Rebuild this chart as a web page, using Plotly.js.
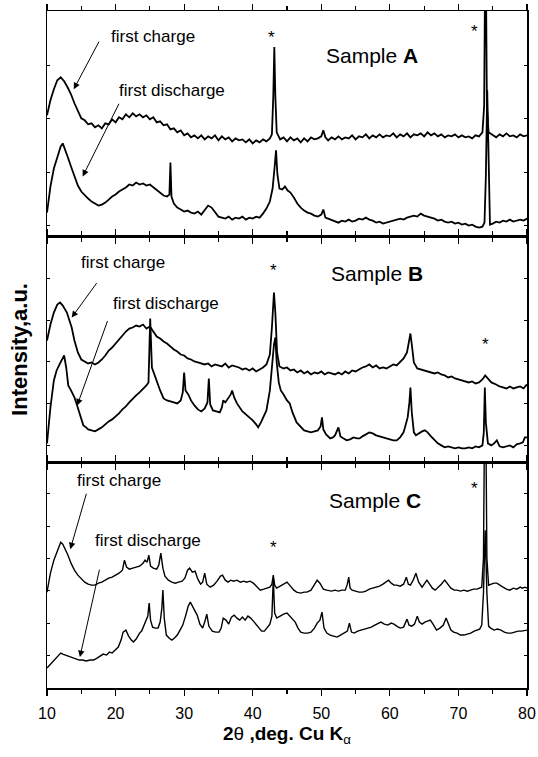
<!DOCTYPE html>
<html>
<head>
<meta charset="utf-8">
<script src="https://cdn.plot.ly/plotly-3.0.1.min.js"></script>
<style>html,body{margin:0;padding:0;background:#fff}#chart{width:538px;height:757px}</style>
</head>
<body>
<div id="chart"></div>
<script>
// ---------- Data (2θ in degrees, intensity in arbitrary units) ----------
const aChargeX = [10,10.5,11,11.5,12,12.5,13,13.5,14,14.5,15,15.5,16,16.5,17,17.5,18,18.5,19,19.5,20,20.5,21,21.5,22,22.5,23,23.5,24,24.5,25,25.5,26,26.5,27,27.5,28,28.5,29,29.5,30,30.5,31,31.5,32,32.5,33,33.5,34,34.5,35,35.5,36,36.5,37,37.5,38,38.5,39,39.5,40,40.5,41,41.5,42,42.5,42.8,43,43.15,43.3,43.5,44,44.5,45,45.5,46,46.5,47,47.5,48,48.5,49,49.5,50,50.3,50.6,51,51.5,52,52.5,53,53.5,54,54.5,55,55.5,56,56.5,57,57.5,58,58.5,59,59.5,60,60.5,61,61.5,62,62.5,63,63.5,64,64.5,65,65.5,66,66.5,67,67.5,68,68.5,69,69.5,70,70.5,71,71.5,72,72.5,73,73.5,73.75,73.95,74.15,74.4,75,75.5,76,76.5,77,77.5,78,78.5,79,79.5,80];
const aChargeY = [121,136,147,156,159,155,149,142,133,126,118,116,112,113,109,111,108,113,112,117,114,119,117,122,119,123,120,122,119,121,117,119,114,115,111,112,107,108,104,106,101,103,99,101,98,101,97,100,98,101,96,100,97,99,95,98,96,97,94,97,93,96,94,97,95,98,102,140,189,140,104,97,99,95,99,96,98,94,98,95,99,97,98,100,106,99,96,99,97,100,97,99,98,101,97,100,99,102,98,101,99,102,99,101,100,103,99,102,100,103,99,102,101,103,100,104,101,103,100,102,99,101,100,102,99,101,99,100,98,101,100,104,130,320,130,104,101,99,102,100,103,100,101,99,102,100,101];

const aDischargeX = [10,10.5,11,11.5,12,12.3,12.6,13,13.5,14,14.5,15,15.5,16,16.5,17,17.5,18,18.5,19,19.5,20,20.5,21,21.5,22,22.5,23,23.5,24,24.5,25,25.5,26,26.5,27,27.5,27.85,28,28.15,28.5,29,29.5,30,30.5,31,31.5,32,32.5,33,33.5,34,34.5,35,35.5,36,36.5,37,37.5,38,38.5,39,39.5,40,40.5,41,41.5,42,42.5,42.9,43.2,43.4,43.6,43.9,44.3,44.7,45.1,45.5,46,46.5,47,47.5,48,48.5,49,49.5,50,50.3,50.6,51,51.5,52,52.5,53,53.5,54,54.5,55,55.5,56,56.5,57,57.5,58,58.5,59,59.5,60,60.5,61,61.5,62,62.5,63,63.5,64,64.5,65,65.5,66,66.5,67,67.5,68,68.5,69,69.5,70,70.5,71,71.5,72,72.5,73,73.5,73.8,74,74.2,74.4,74.6,75,75.5,76,76.5,77,77.5,78,78.5,79,79.5,80];
const aDischargeY = [24,50,68,80,90,93,88,80,70,60,51,45,41,38,35,33,31,32,34,37,40,42,45,47,49,52,51,54,52,53,51,52,49,47,44,41,40,42,74,40,33,29,27,25,26,24,23,25,22,27,31,29,25,20,19,18,20,17,19,18,20,17,19,18,20,19,23,28,35,48,70,86,62,48,47,50,46,44,39,33,29,26,24,23,21,20,22,27,19,18,17,15,14,16,15,17,15,16,18,17,19,17,16,14,15,13,14,15,16,17,18,17,19,20,21,20,23,21,20,19,18,16,17,15,14,15,13,14,12,13,11,12,10,9,10,14,60,146,60,12,13,15,14,16,15,17,15,16,17,16,18];

const bChargeX = [10,10.5,11,11.5,11.9,12.3,12.9,13.3,13.6,14,14.5,15,15.5,16,16.5,17,17.5,18,18.5,19,19.5,20,20.5,21,21.5,22,22.5,23,23.5,24,24.5,25,25.5,26,26.5,27,27.5,28,28.5,29,29.5,30,30.5,31,31.5,32,32.5,33,33.5,34,34.5,35,35.5,36,36.5,37,37.5,38,38.5,39,39.5,40,40.5,41,41.5,42,42.5,42.8,43.1,43.3,43.55,43.9,44.5,45,45.5,46,46.5,47,47.5,48,48.5,49,49.5,50,50.5,51,51.5,52,52.5,53,53.5,54,54.5,55,55.5,56,56.5,57,57.5,58,58.5,59,59.5,60,60.5,61,61.5,62,62.5,62.8,63,63.2,63.5,64,64.5,65,65.5,66,66.5,67,67.5,68,68.5,69,69.5,70,70.5,71,71.5,72,72.5,73,73.5,73.9,74.3,74.8,75.5,76,76.5,77,77.5,78,78.5,79,79.5,80];
const bChargeY = [122,138,150,158,160,157,150,142,135,122,110,103,101,99,100,98,100,103,107,112,115,119,123,128,131,134,135,137,136,138,134,136,131,126,124,121,119,116,113,111,108,107,104,103,101,100,99,98,99,96,98,97,96,99,95,97,96,95,93,94,92,94,91,93,95,98,108,135,170,150,110,96,94,95,92,93,90,92,89,91,88,90,89,91,88,90,89,88,90,88,91,89,92,91,93,95,96,98,95,97,94,95,94,96,98,97,101,104,110,122,129,118,100,94,93,92,91,90,89,90,88,87,85,86,84,83,82,81,80,81,79,80,83,87,84,80,78,76,75,74,76,74,75,76,74,78];

const bDischargeX = [10,10.5,11,11.4,11.9,12.2,12.5,12.8,13.1,13.5,14,14.3,14.7,15,15.3,15.7,16,16.5,17,17.5,18,18.5,19,19.5,20,20.5,21,21.5,22,22.5,23,23.5,24,24.5,24.8,25.05,25.3,25.6,26,26.5,27,27.5,28,28.5,29,29.5,29.8,30,30.2,30.6,31,31.5,32,32.5,33,33.4,33.6,33.8,34.2,34.7,35.2,35.5,35.7,36,36.4,36.8,37,37.3,37.7,38,38.5,39,39.5,40,40.5,40.8,41.2,41.6,42,42.5,42.8,43.1,43.3,43.5,43.8,44.1,44.5,45,45.4,45.8,46.4,47,47.5,48,48.5,49,49.5,49.9,50.1,50.3,50.7,51,51.3,51.7,52,52.5,52.8,53.2,53.7,54.2,54.7,55.2,55.6,56,56.5,57,57.5,58,58.5,59,59.5,60,60.5,61,61.5,62,62.3,62.6,62.85,63,63.2,63.5,63.8,64.2,64.7,65.1,65.5,66,66.5,67,67.5,68,68.5,69,69.5,70,70.5,71,71.5,72,72.5,73,73.5,73.7,73.85,74,74.3,74.8,75.2,75.6,76,76.5,77,77.5,78,78.5,79,79.4,79.7,80];
const bDischargeY = [19,55,82,92,99,103,107,95,77,72,65,59,50,43,37,35,33,32,31,33,35,38,41,43,46,49,53,56,60,64,67,70,73,77,80,144,95,89,82,72,64,62,61,60,59,62,70,90,72,68,62,57,53,51,54,60,84,58,52,51,50,55,62,60,64,68,72,65,59,56,51,48,45,42,38,35,40,46,52,72,95,118,125,100,80,72,68,62,59,50,40,35,32,31,30,31,32,36,45,33,28,26,24,25,27,35,26,24,22,23,25,24,24,26,28,30,29,27,26,25,24,23,22,22,25,30,37,45,60,75,50,30,27,29,31,32,30,26,22,19,17,15,16,15,14,15,14,14,15,14,16,15,17,30,75,40,19,17,19,22,16,15,16,17,15,18,19,20,25,25];

const cChargeX = [10,10.5,11,11.5,12,12.3,12.7,13,13.5,14,14.5,15,15.5,16,16.5,17,17.5,18,18.5,19,19.5,20,20.5,21,21.3,21.6,22,22.5,23,23.5,24,24.3,24.6,24.85,25.1,25.5,26,26.3,26.6,26.9,27.2,27.7,28.2,28.7,29.2,29.7,30.1,30.5,30.8,31.2,31.6,32,32.4,32.7,33,33.3,33.8,34.3,34.8,35.3,35.6,36,36.4,36.8,37.2,37.7,38.2,38.7,39.1,39.6,40.1,40.6,41.1,41.6,42,42.5,42.8,43,43.2,43.5,44,44.5,45,45.5,46,46.4,47,47.5,47.9,48.5,49,49.4,49.8,50.3,50.8,51.5,52,52.5,53,53.5,53.8,54,54.2,54.5,55,55.5,56,56.5,57,57.5,58,58.5,59,59.5,59.8,60.2,60.6,61,61.5,62,62.4,62.7,63,63.4,63.8,64.2,64.7,65.1,65.4,65.8,66.2,66.6,67.1,67.5,68,68.4,68.9,69.4,69.8,70.3,70.8,71.3,71.7,72.2,72.7,73.1,73.4,73.65,73.9,74.15,74.4,74.8,75.2,75.6,76,76.5,77,77.5,78,78.5,79,79.3,79.7,80];
const cChargeY = [96,115,128,138,146,144,139,134,125,118,113,109,106,104,103,103,105,106,108,110,111,113,115,118,128,121,119,120,121,122,125,128,126,133,122,120,119,123,135,120,112,108,106,105,106,107,110,118,120,116,117,109,104,106,115,104,101,103,107,112,113,108,106,108,107,108,106,107,106,107,105,101,98,99,100,101,104,113,103,100,102,104,106,102,98,96,95,96,96,98,103,108,105,99,98,97,98,97,98,98,104,111,100,98,97,96,96,97,99,100,101,102,104,107,108,105,103,103,102,104,111,104,103,108,115,106,101,105,108,104,100,98,101,104,108,104,100,98,98,97,98,97,98,99,99,100,101,130,350,130,103,104,105,105,103,101,99,98,100,99,101,100,101,100];

const cDischargeX = [10,10.5,11,11.5,12,12.3,12.7,13.2,13.7,14.2,14.7,15.2,15.7,16.3,16.8,17.3,17.8,18.2,18.7,19.1,19.5,20,20.4,20.8,21.1,21.5,21.9,22.3,22.6,23,23.5,23.8,24.1,24.4,24.7,24.9,25.1,25.4,25.8,26.2,26.5,26.75,26.9,27.1,27.4,27.8,28.2,28.6,29,29.4,29.8,30.2,30.6,30.9,31.2,31.6,31.9,32.3,32.7,33,33.3,33.6,34.1,34.6,35.1,35.4,35.7,36.1,36.5,36.9,37.3,37.7,38.1,38.5,38.9,39.3,39.7,40.1,40.5,40.9,41.3,41.7,42.1,42.5,42.8,43,43.2,43.5,44,44.5,45,45.4,45.8,46.2,46.6,47,47.5,48,48.5,49,49.4,49.8,50.1,50.4,50.8,51.3,51.8,52.3,52.8,53.3,53.8,54.1,54.4,54.8,55.3,55.8,56.3,56.8,57.3,57.8,58.3,58.7,59.2,59.7,60.2,60.6,61,61.5,62,62.5,62.8,63.2,63.6,64,64.3,64.7,65.1,65.5,65.9,66.3,66.8,67.3,67.8,68.2,68.5,68.9,69.3,69.8,70.3,70.8,71.3,71.8,72.3,72.7,73.1,73.4,73.65,73.9,74.15,74.4,74.7,75.2,75.7,76.2,76.7,77.2,77.7,78.2,78.7,79.2,79.7,80];
const cDischargeY = [20,24,28,32,35,34,33,32,30,29,28,28,27,28,28,30,32,34,33,36,35,38,41,48,56,58,52,48,46,49,55,57,62,68,72,85,68,61,60,60,66,80,98,70,53,50,48,50,53,58,63,72,82,86,82,78,73,64,60,66,74,62,57,56,56,60,70,68,64,71,73,70,68,71,68,72,70,67,64,60,57,57,60,64,72,110,75,70,72,74,75,72,70,66,60,56,55,55,56,60,65,68,76,60,55,53,52,51,53,55,57,65,56,55,57,58,59,60,61,63,65,66,64,63,65,64,62,60,61,69,63,62,64,72,66,64,66,67,68,64,58,60,63,70,64,58,56,55,53,53,54,55,57,58,59,63,95,158,95,62,60,58,59,58,56,55,55,56,57,57,58,58];

const panelNames = ['A', 'B', 'C'];
const curveNames = ['first charge', 'first discharge'];
const xTickLabels = ['10', '20', '30', '40', '50', '60', '70', '80'];

// ---------- Styling ----------
const FONT = 'Liberation Sans, Arial, Helvetica, sans-serif';

const series = [
  {x: aChargeX, y: aChargeY, ax: 'x3', ay: 'y3', name: 'A ' + curveNames[0], w: 1.8},
  {x: aDischargeX, y: aDischargeY, ax: 'x3', ay: 'y3', name: 'A ' + curveNames[1], w: 1.8},
  {x: bChargeX, y: bChargeY, ax: 'x2', ay: 'y2', name: 'B ' + curveNames[0], w: 1.8},
  {x: bDischargeX, y: bDischargeY, ax: 'x2', ay: 'y2', name: 'B ' + curveNames[1], w: 1.8},
  {x: cChargeX, y: cChargeY, ax: 'x', ay: 'y', name: 'C ' + curveNames[0], w: 1.4},
  {x: cDischargeX, y: cDischargeY, ax: 'x', ay: 'y', name: 'C ' + curveNames[1], w: 1.4}
];

const traces = series.map(s => ({
  type: 'scatter', mode: 'lines', x: s.x, y: s.y, xaxis: s.ax, yaxis: s.ay,
  name: s.name, line: {color: '#000', width: s.w}, hoverinfo: 'skip', showlegend: false
}));

function xAxis(anchor, labels) {
  const ax = {
    anchor: anchor, range: [10, 80], tickmode: 'array',
    tickvals: xTickLabels.map(Number), ticktext: xTickLabels,
    ticks: 'outside', ticklen: 6, tickwidth: 1.2, tickcolor: '#000',
    showline: true, linecolor: '#000', linewidth: 1.5, mirror: 'ticks',
    showgrid: false, zeroline: false, showticklabels: labels,
    ticklabelstandoff: 4,
    tickfont: {family: FONT, size: 16, color: '#000'},
    minor: {tickmode: 'linear', tick0: 15, dtick: 10, ticks: 'outside', ticklen: 4, tickwidth: 1.2, tickcolor: '#000', showgrid: false}
  };
  if (anchor !== 'y') ax.matches = 'x';
  return ax;
}
function yAxis(anchor, domain, top, tick0, dtick) {
  return {
    anchor: anchor, domain: domain, range: [0, top],
    tickmode: 'linear', tick0: tick0, dtick: dtick,
    ticks: 'inside', ticklen: 3, tickwidth: 1, tickcolor: '#000',
    showline: true, linecolor: '#000', linewidth: 1.5, mirror: 'ticks',
    showgrid: false, zeroline: false, showticklabels: false, fixedrange: true
  };
}

const annotations = [];
function txt(xr, yr, x, y, text, size) {
  annotations.push({xref: xr, yref: yr, x: x, y: y, text: text, showarrow: false,
    font: {family: FONT, size: size, color: '#000'}, xanchor: 'center', yanchor: 'middle'});
}
function arrow(xr, yr, hx, hy, tx, ty) {
  annotations.push({xref: xr, yref: yr, axref: xr, ayref: yr, x: hx, y: hy, ax: tx, ay: ty,
    text: '', showarrow: true, arrowhead: 2, arrowsize: 1.3, arrowwidth: 1, arrowcolor: '#000', standoff: 0, startstandoff: 0});
}

// Panel A (top)
txt('x3', 'y3', 25.5, 200, curveNames[0], 17);
arrow('x3', 'y3', 13.9, 147, 17.7, 196);
txt('x3', 'y3', 28.2, 146, curveNames[1], 17);
arrow('x3', 'y3', 15.2, 60, 20.6, 134);
txt('x3', 'y3', 57.4, 181, 'Sample <b>' + panelNames[0] + '</b>', 21);
txt('x3', 'y3', 42.8, 199, '*', 17);
txt('x3', 'y3', 72.4, 205, '*', 17);

// Panel B (middle)
txt('x2', 'y2', 21.1, 200, curveNames[0], 17);
arrow('x2', 'y2', 13.6, 145, 17.4, 181);
txt('x2', 'y2', 27.4, 159, curveNames[1], 17);
arrow('x2', 'y2', 14.4, 57, 18.9, 143);
txt('x2', 'y2', 58.1, 189, 'Sample <b>' + panelNames[1] + '</b>', 21);
txt('x2', 'y2', 43.0, 192, '*', 17);
txt('x2', 'y2', 74.0, 118, '*', 17);

// Panel C (bottom)
txt('x', 'y', 20.5, 208, curveNames[0], 17);
arrow('x', 'y', 13.4, 139, 15.8, 196);
txt('x', 'y', 24.7, 148, curveNames[1], 17);
arrow('x', 'y', 14.8, 31, 17.7, 120);
txt('x', 'y', 57.8, 188, 'Sample <b>' + panelNames[2] + '</b>', 21);
txt('x', 'y', 43.1, 141, '*', 17);
txt('x', 'y', 72.4, 200, '*', 17);

const layout = {
  width: 538, height: 757,
  margin: {l: 47, r: 11, t: 11, b: 69, pad: 0},
  paper_bgcolor: '#fff', plot_bgcolor: '#fff',
  font: {family: FONT, color: '#000'},
  showlegend: false,
  xaxis: Object.assign(xAxis('y', true), {
    title: {text: '<b>2</b>θ<b> ,deg. Cu K</b><sub>α</sub>', font: {family: FONT, size: 19, color: '#000'}, standoff: 6}
  }),
  xaxis2: xAxis('y2', false),
  xaxis3: xAxis('y3', false),
  yaxis: yAxis('x', [0, 1/3], 226, 0, 32.4),
  yaxis2: Object.assign(yAxis('x2', [1/3, 2/3], 226, 17, 41.8), {
    title: {text: '<b>Intensity,a.u.</b>', font: {family: FONT, size: 22, color: '#000'}, standoff: 12}
  }),
  yaxis3: yAxis('x3', [2/3, 1], 225, 11, 53.3),
  annotations: annotations
};

Plotly.newPlot('chart', traces, layout, {staticPlot: true, displayModeBar: false});
</script>
</body>
</html>
